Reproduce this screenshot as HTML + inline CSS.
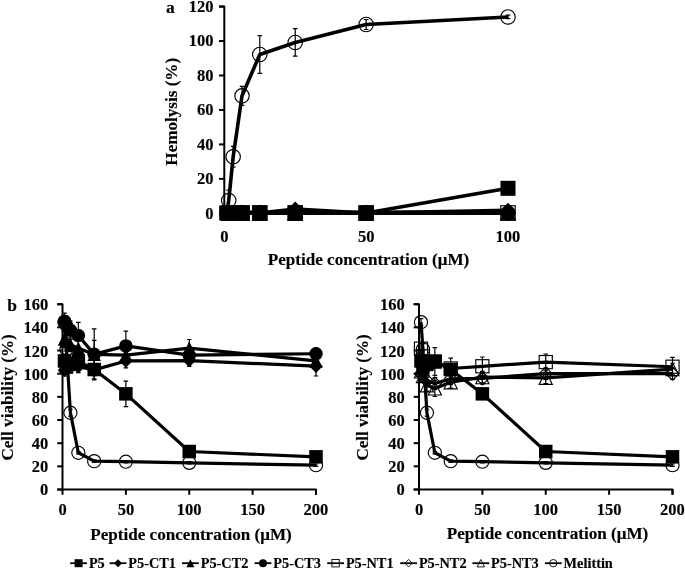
<!DOCTYPE html>
<html><head><meta charset="utf-8"><style>
html,body{margin:0;padding:0;background:#fff;}
svg{display:block;will-change:transform}
text{font-family:"Liberation Serif",serif;font-weight:bold;fill:#000;stroke:#000;stroke-width:0.15px}
</style></head><body>
<svg width="685" height="569" viewBox="0 0 685 569">
<rect width="685" height="569" fill="#fff"/>
<path d="M219.0 6.6 H224.3 V213.3" stroke="#000" stroke-width="2" fill="none" stroke-linejoin="round"/>
<path d="M219.0 213.3 H508 V213.3" stroke="#000" stroke-width="2" fill="none" stroke-linejoin="round"/>
<path d="M219.0 213.30 H224.3" stroke="#000" stroke-width="2"/>
<text transform="translate(213.5 218.53) scale(0.935 1)" font-size="17.66" text-anchor="end">0</text>
<path d="M219.0 178.85 H224.3" stroke="#000" stroke-width="2"/>
<text transform="translate(213.5 184.08) scale(0.935 1)" font-size="17.66" text-anchor="end">20</text>
<path d="M219.0 144.40 H224.3" stroke="#000" stroke-width="2"/>
<text transform="translate(213.5 149.63) scale(0.935 1)" font-size="17.66" text-anchor="end">40</text>
<path d="M219.0 109.95 H224.3" stroke="#000" stroke-width="2"/>
<text transform="translate(213.5 115.18) scale(0.935 1)" font-size="17.66" text-anchor="end">60</text>
<path d="M219.0 75.50 H224.3" stroke="#000" stroke-width="2"/>
<text transform="translate(213.5 80.73) scale(0.935 1)" font-size="17.66" text-anchor="end">80</text>
<path d="M219.0 41.05 H224.3" stroke="#000" stroke-width="2"/>
<text transform="translate(213.5 46.28) scale(0.935 1)" font-size="17.66" text-anchor="end">100</text>
<path d="M219.0 6.60 H224.3" stroke="#000" stroke-width="2"/>
<text transform="translate(213.5 11.83) scale(0.935 1)" font-size="17.66" text-anchor="end">120</text>
<text transform="translate(224.30 241.7) scale(0.935 1)" font-size="17.66" text-anchor="middle">0</text>
<text transform="translate(366.15 241.7) scale(0.935 1)" font-size="17.66" text-anchor="middle">50</text>
<text transform="translate(508.00 241.7) scale(0.935 1)" font-size="17.66" text-anchor="middle">100</text>
<text x="368.5" y="265" font-size="17.1" text-anchor="middle">Peptide concentration (μM)</text>
<text transform="translate(176.8 111.75) rotate(-90)" font-size="17.1" text-anchor="middle">Hemolysis (%)</text>
<path d="M228.73 190.22 V210.89 M226.43 190.22 h4.6 M226.43 210.89 h4.6" stroke="#000" stroke-width="1.2" fill="none"/>
<path d="M233.17 146.47 V167.14 M230.87 146.47 h4.6 M230.87 167.14 h4.6" stroke="#000" stroke-width="1.2" fill="none"/>
<path d="M242.03 86.35 V105.30 M239.73 86.35 h4.6 M239.73 105.30 h4.6" stroke="#000" stroke-width="1.2" fill="none"/>
<path d="M259.76 35.54 V73.43 M257.46 35.54 h4.6 M257.46 73.43 h4.6" stroke="#000" stroke-width="1.2" fill="none"/>
<path d="M295.23 28.65 V56.21 M292.93 28.65 h4.6 M292.93 56.21 h4.6" stroke="#000" stroke-width="1.2" fill="none"/>
<path d="M366.15 19.52 V29.51 M363.85 19.52 h4.6 M363.85 29.51 h4.6" stroke="#000" stroke-width="1.2" fill="none"/>
<path d="M508.00 15.21 V18.66 M505.70 15.21 h4.6 M505.70 18.66 h4.6" stroke="#000" stroke-width="1.2" fill="none"/>
<path d="M226.71 212.96 L228.73 200.55 L233.17 156.80 L242.03 95.83 L259.76 54.49 L295.23 42.43 L366.15 24.51 L508.00 16.94" stroke="#000" stroke-width="3.6" fill="none" stroke-linejoin="round"/>
<circle cx="226.71" cy="212.96" r="7.22" fill="none" stroke="#000" stroke-width="1.15"/>
<circle cx="228.73" cy="200.55" r="7.22" fill="none" stroke="#000" stroke-width="1.15"/>
<circle cx="233.17" cy="156.80" r="7.22" fill="none" stroke="#000" stroke-width="1.15"/>
<circle cx="242.03" cy="95.83" r="7.22" fill="none" stroke="#000" stroke-width="1.15"/>
<circle cx="259.76" cy="54.49" r="7.22" fill="none" stroke="#000" stroke-width="1.15"/>
<circle cx="295.23" cy="42.43" r="7.22" fill="none" stroke="#000" stroke-width="1.15"/>
<circle cx="366.15" cy="24.51" r="7.22" fill="none" stroke="#000" stroke-width="1.15"/>
<circle cx="508.00" cy="16.94" r="7.22" fill="none" stroke="#000" stroke-width="1.15"/>
<path d="M228.73 212.96 L233.17 212.96 L242.03 212.96 L259.76 212.96 L295.23 212.96 L366.15 212.96 L508.00 212.96" stroke="#000" stroke-width="3.6" fill="none" stroke-linejoin="round"/>
<path d="M228.73 205.73 L235.96 220.18 L221.51 220.18 Z" fill="none" stroke="#000" stroke-width="1.15"/>
<path d="M233.17 205.73 L240.39 220.18 L225.94 220.18 Z" fill="none" stroke="#000" stroke-width="1.15"/>
<path d="M242.03 205.73 L249.26 220.18 L234.81 220.18 Z" fill="none" stroke="#000" stroke-width="1.15"/>
<path d="M259.76 205.73 L266.99 220.18 L252.54 220.18 Z" fill="none" stroke="#000" stroke-width="1.15"/>
<path d="M295.23 205.73 L302.45 220.18 L288.00 220.18 Z" fill="none" stroke="#000" stroke-width="1.15"/>
<path d="M366.15 205.73 L373.38 220.18 L358.92 220.18 Z" fill="none" stroke="#000" stroke-width="1.15"/>
<path d="M508.00 205.73 L515.23 220.18 L500.77 220.18 Z" fill="none" stroke="#000" stroke-width="1.15"/>
<path d="M228.73 212.96 L233.17 212.96 L242.03 212.96 L259.76 212.96 L295.23 212.96 L366.15 212.96 L508.00 212.96" stroke="#000" stroke-width="3.6" fill="none" stroke-linejoin="round"/>
<path d="M228.73 205.73 L235.96 212.96 L228.73 220.18 L221.51 212.96 Z" fill="none" stroke="#000" stroke-width="1.15"/>
<path d="M233.17 205.73 L240.39 212.96 L233.17 220.18 L225.94 212.96 Z" fill="none" stroke="#000" stroke-width="1.15"/>
<path d="M242.03 205.73 L249.26 212.96 L242.03 220.18 L234.81 212.96 Z" fill="none" stroke="#000" stroke-width="1.15"/>
<path d="M259.76 205.73 L266.99 212.96 L259.76 220.18 L252.54 212.96 Z" fill="none" stroke="#000" stroke-width="1.15"/>
<path d="M295.23 205.73 L302.45 212.96 L295.23 220.18 L288.00 212.96 Z" fill="none" stroke="#000" stroke-width="1.15"/>
<path d="M366.15 205.73 L373.38 212.96 L366.15 220.18 L358.92 212.96 Z" fill="none" stroke="#000" stroke-width="1.15"/>
<path d="M508.00 205.73 L515.23 212.96 L508.00 220.18 L500.77 212.96 Z" fill="none" stroke="#000" stroke-width="1.15"/>
<path d="M228.73 212.96 L233.17 212.96 L242.03 212.96 L259.76 212.96 L295.23 212.96 L366.15 212.96 L508.00 212.96" stroke="#000" stroke-width="3.6" fill="none" stroke-linejoin="round"/>
<rect x="221.51" y="205.73" width="14.45" height="14.45" fill="none" stroke="#000" stroke-width="1.15"/>
<rect x="225.94" y="205.73" width="14.45" height="14.45" fill="none" stroke="#000" stroke-width="1.15"/>
<rect x="234.81" y="205.73" width="14.45" height="14.45" fill="none" stroke="#000" stroke-width="1.15"/>
<rect x="252.54" y="205.73" width="14.45" height="14.45" fill="none" stroke="#000" stroke-width="1.15"/>
<rect x="288.00" y="205.73" width="14.45" height="14.45" fill="none" stroke="#000" stroke-width="1.15"/>
<rect x="358.92" y="205.73" width="14.45" height="14.45" fill="none" stroke="#000" stroke-width="1.15"/>
<rect x="500.77" y="205.73" width="14.45" height="14.45" fill="none" stroke="#000" stroke-width="1.15"/>
<path d="M228.73 212.96 L233.17 212.96 L242.03 212.96 L259.76 212.96 L295.23 212.96 L366.15 212.96 L508.00 212.96" stroke="#000" stroke-width="3.6" fill="none" stroke-linejoin="round"/>
<circle cx="228.73" cy="212.96" r="7.50" fill="#000" stroke="#000" stroke-width="0"/>
<circle cx="233.17" cy="212.96" r="7.50" fill="#000" stroke="#000" stroke-width="0"/>
<circle cx="242.03" cy="212.96" r="7.50" fill="#000" stroke="#000" stroke-width="0"/>
<circle cx="259.76" cy="212.96" r="7.50" fill="#000" stroke="#000" stroke-width="0"/>
<circle cx="295.23" cy="212.96" r="7.50" fill="#000" stroke="#000" stroke-width="0"/>
<circle cx="366.15" cy="212.96" r="7.50" fill="#000" stroke="#000" stroke-width="0"/>
<circle cx="508.00" cy="212.96" r="7.50" fill="#000" stroke="#000" stroke-width="0"/>
<path d="M228.73 212.27 L233.17 212.27 L242.03 212.27 L259.76 212.27 L295.23 212.27 L366.15 212.27 L508.00 212.27" stroke="#000" stroke-width="3.6" fill="none" stroke-linejoin="round"/>
<path d="M228.73 204.77 L236.23 219.77 L221.23 219.77 Z" fill="#000" stroke="#000" stroke-width="0"/>
<path d="M233.17 204.77 L240.67 219.77 L225.67 219.77 Z" fill="#000" stroke="#000" stroke-width="0"/>
<path d="M242.03 204.77 L249.53 219.77 L234.53 219.77 Z" fill="#000" stroke="#000" stroke-width="0"/>
<path d="M259.76 204.77 L267.26 219.77 L252.26 219.77 Z" fill="#000" stroke="#000" stroke-width="0"/>
<path d="M295.23 204.77 L302.73 219.77 L287.73 219.77 Z" fill="#000" stroke="#000" stroke-width="0"/>
<path d="M366.15 204.77 L373.65 219.77 L358.65 219.77 Z" fill="#000" stroke="#000" stroke-width="0"/>
<path d="M508.00 204.77 L515.50 219.77 L500.50 219.77 Z" fill="#000" stroke="#000" stroke-width="0"/>
<path d="M228.73 212.96 L233.17 212.96 L242.03 212.96 L259.76 212.96 L295.23 208.99 L366.15 212.96 L508.00 210.37" stroke="#000" stroke-width="3.6" fill="none" stroke-linejoin="round"/>
<path d="M228.73 205.46 L236.23 212.96 L228.73 220.46 L221.23 212.96 Z" fill="#000" stroke="#000" stroke-width="0"/>
<path d="M233.17 205.46 L240.67 212.96 L233.17 220.46 L225.67 212.96 Z" fill="#000" stroke="#000" stroke-width="0"/>
<path d="M242.03 205.46 L249.53 212.96 L242.03 220.46 L234.53 212.96 Z" fill="#000" stroke="#000" stroke-width="0"/>
<path d="M259.76 205.46 L267.26 212.96 L259.76 220.46 L252.26 212.96 Z" fill="#000" stroke="#000" stroke-width="0"/>
<path d="M295.23 201.49 L302.73 208.99 L295.23 216.49 L287.73 208.99 Z" fill="#000" stroke="#000" stroke-width="0"/>
<path d="M366.15 205.46 L373.65 212.96 L366.15 220.46 L358.65 212.96 Z" fill="#000" stroke="#000" stroke-width="0"/>
<path d="M508.00 202.87 L515.50 210.37 L508.00 217.87 L500.50 210.37 Z" fill="#000" stroke="#000" stroke-width="0"/>
<path d="M226.71 212.96 L228.73 212.96 L233.17 212.96 L242.03 212.96 L259.76 212.96 L295.23 212.96 L366.15 212.96 L508.00 188.32" stroke="#000" stroke-width="3.6" fill="none" stroke-linejoin="round"/>
<rect x="219.21" y="205.46" width="15" height="15" fill="#000" stroke="#000" stroke-width="0"/>
<rect x="221.23" y="205.46" width="15" height="15" fill="#000" stroke="#000" stroke-width="0"/>
<rect x="225.67" y="205.46" width="15" height="15" fill="#000" stroke="#000" stroke-width="0"/>
<rect x="234.53" y="205.46" width="15" height="15" fill="#000" stroke="#000" stroke-width="0"/>
<rect x="252.26" y="205.46" width="15" height="15" fill="#000" stroke="#000" stroke-width="0"/>
<rect x="287.73" y="205.46" width="15" height="15" fill="#000" stroke="#000" stroke-width="0"/>
<rect x="358.65" y="205.46" width="15" height="15" fill="#000" stroke="#000" stroke-width="0"/>
<rect x="500.50" y="180.82" width="15" height="15" fill="#000" stroke="#000" stroke-width="0"/>
<path d="M57.2 304.2 H62.5 V489.5" stroke="#000" stroke-width="2" fill="none" stroke-linejoin="round"/>
<path d="M57.2 489.5 H316 V494.8" stroke="#000" stroke-width="2" fill="none" stroke-linejoin="round"/>
<path d="M57.2 489.50 H62.5" stroke="#000" stroke-width="2"/>
<text transform="translate(48.3 495.48) scale(0.935 1)" font-size="17.66" text-anchor="end">0</text>
<path d="M57.2 466.34 H62.5" stroke="#000" stroke-width="2"/>
<text transform="translate(48.3 472.31) scale(0.935 1)" font-size="17.66" text-anchor="end">20</text>
<path d="M57.2 443.18 H62.5" stroke="#000" stroke-width="2"/>
<text transform="translate(48.3 449.15) scale(0.935 1)" font-size="17.66" text-anchor="end">40</text>
<path d="M57.2 420.01 H62.5" stroke="#000" stroke-width="2"/>
<text transform="translate(48.3 425.99) scale(0.935 1)" font-size="17.66" text-anchor="end">60</text>
<path d="M57.2 396.85 H62.5" stroke="#000" stroke-width="2"/>
<text transform="translate(48.3 402.83) scale(0.935 1)" font-size="17.66" text-anchor="end">80</text>
<path d="M57.2 373.69 H62.5" stroke="#000" stroke-width="2"/>
<text transform="translate(48.3 379.66) scale(0.935 1)" font-size="17.66" text-anchor="end">100</text>
<path d="M57.2 350.52 H62.5" stroke="#000" stroke-width="2"/>
<text transform="translate(48.3 356.50) scale(0.935 1)" font-size="17.66" text-anchor="end">120</text>
<path d="M57.2 327.36 H62.5" stroke="#000" stroke-width="2"/>
<text transform="translate(48.3 333.34) scale(0.935 1)" font-size="17.66" text-anchor="end">140</text>
<path d="M57.2 304.20 H62.5" stroke="#000" stroke-width="2"/>
<text transform="translate(48.3 310.18) scale(0.935 1)" font-size="17.66" text-anchor="end">160</text>
<path d="M62.50 489.5 V494.8" stroke="#000" stroke-width="2"/>
<text transform="translate(62.50 515.45) scale(0.935 1)" font-size="17.66" text-anchor="middle">0</text>
<path d="M125.88 489.5 V494.8" stroke="#000" stroke-width="2"/>
<text transform="translate(125.88 515.45) scale(0.935 1)" font-size="17.66" text-anchor="middle">50</text>
<path d="M189.25 489.5 V494.8" stroke="#000" stroke-width="2"/>
<text transform="translate(189.25 515.45) scale(0.935 1)" font-size="17.66" text-anchor="middle">100</text>
<path d="M252.62 489.5 V494.8" stroke="#000" stroke-width="2"/>
<text transform="translate(252.62 515.45) scale(0.935 1)" font-size="17.66" text-anchor="middle">150</text>
<path d="M316.00 489.5 V494.8" stroke="#000" stroke-width="2"/>
<text transform="translate(316.00 515.45) scale(0.935 1)" font-size="17.66" text-anchor="middle">200</text>
<text x="191" y="539.6" font-size="17.1" text-anchor="middle">Peptide concentration (μM)</text>
<text transform="translate(12.8 397.45000000000005) rotate(-90)" font-size="17.1" text-anchor="middle">Cell viability (%)</text>
<path d="M64.48 318.68 V325.63 M62.18 318.68 h4.6 M62.18 325.63 h4.6" stroke="#000" stroke-width="1.2" fill="none"/>
<path d="M66.46 343.58 V355.16 M64.16 343.58 h4.6 M64.16 355.16 h4.6" stroke="#000" stroke-width="1.2" fill="none"/>
<path d="M70.42 409.24 V416.19 M68.12 409.24 h4.6 M68.12 416.19 h4.6" stroke="#000" stroke-width="1.2" fill="none"/>
<path d="M78.34 451.63 V453.95 M76.04 451.63 h4.6 M76.04 453.95 h4.6" stroke="#000" stroke-width="1.2" fill="none"/>
<path d="M94.19 459.97 V462.28 M91.89 459.97 h4.6 M91.89 462.28 h4.6" stroke="#000" stroke-width="1.2" fill="none"/>
<path d="M125.88 460.55 V462.86 M123.58 460.55 h4.6 M123.58 462.86 h4.6" stroke="#000" stroke-width="1.2" fill="none"/>
<path d="M189.25 461.70 V464.02 M186.95 461.70 h4.6 M186.95 464.02 h4.6" stroke="#000" stroke-width="1.2" fill="none"/>
<path d="M316.00 464.02 V466.34 M313.70 464.02 h4.6 M313.70 466.34 h4.6" stroke="#000" stroke-width="1.2" fill="none"/>
<path d="M64.48 322.15 L66.46 349.37 L70.42 412.72 L78.34 452.79 L94.19 461.13 L125.88 461.70 L189.25 462.86 L316.00 465.18" stroke="#000" stroke-width="3.2" fill="none" stroke-linejoin="round"/>
<circle cx="64.48" cy="322.15" r="6.58" fill="none" stroke="#000" stroke-width="1.15"/>
<circle cx="66.46" cy="349.37" r="6.58" fill="none" stroke="#000" stroke-width="1.15"/>
<circle cx="70.42" cy="412.72" r="6.58" fill="none" stroke="#000" stroke-width="1.15"/>
<circle cx="78.34" cy="452.79" r="6.58" fill="none" stroke="#000" stroke-width="1.15"/>
<circle cx="94.19" cy="461.13" r="6.58" fill="none" stroke="#000" stroke-width="1.15"/>
<circle cx="125.88" cy="461.70" r="6.58" fill="none" stroke="#000" stroke-width="1.15"/>
<circle cx="189.25" cy="462.86" r="6.58" fill="none" stroke="#000" stroke-width="1.15"/>
<circle cx="316.00" cy="465.18" r="6.58" fill="none" stroke="#000" stroke-width="1.15"/>
<path d="M64.48 313.12 V329.33 M62.18 313.12 h4.6 M62.18 329.33 h4.6" stroke="#000" stroke-width="1.2" fill="none"/>
<path d="M66.46 316.36 V334.89 M64.16 316.36 h4.6 M64.16 334.89 h4.6" stroke="#000" stroke-width="1.2" fill="none"/>
<path d="M70.42 320.99 V339.52 M68.12 320.99 h4.6 M68.12 339.52 h4.6" stroke="#000" stroke-width="1.2" fill="none"/>
<path d="M78.34 322.38 V348.56 M76.04 322.38 h4.6 M76.04 348.56 h4.6" stroke="#000" stroke-width="1.2" fill="none"/>
<path d="M94.19 328.87 V379.83 M91.89 328.87 h4.6 M91.89 379.83 h4.6" stroke="#000" stroke-width="1.2" fill="none"/>
<path d="M125.88 331.18 V360.60 M123.58 331.18 h4.6 M123.58 360.60 h4.6" stroke="#000" stroke-width="1.2" fill="none"/>
<path d="M189.25 349.37 V360.95 M186.95 349.37 h4.6 M186.95 360.95 h4.6" stroke="#000" stroke-width="1.2" fill="none"/>
<path d="M316.00 347.98 V359.56 M313.70 347.98 h4.6 M313.70 359.56 h4.6" stroke="#000" stroke-width="1.2" fill="none"/>
<path d="M64.48 321.22 L66.46 325.63 L70.42 330.26 L78.34 335.47 L94.19 354.35 L125.88 345.89 L189.25 355.16 L316.00 353.77" stroke="#000" stroke-width="3.2" fill="none" stroke-linejoin="round"/>
<circle cx="64.48" cy="321.22" r="6.75" fill="#000" stroke="#000" stroke-width="0"/>
<circle cx="66.46" cy="325.63" r="6.75" fill="#000" stroke="#000" stroke-width="0"/>
<circle cx="70.42" cy="330.26" r="6.75" fill="#000" stroke="#000" stroke-width="0"/>
<circle cx="78.34" cy="335.47" r="6.75" fill="#000" stroke="#000" stroke-width="0"/>
<circle cx="94.19" cy="354.35" r="6.75" fill="#000" stroke="#000" stroke-width="0"/>
<circle cx="125.88" cy="345.89" r="6.75" fill="#000" stroke="#000" stroke-width="0"/>
<circle cx="189.25" cy="355.16" r="6.75" fill="#000" stroke="#000" stroke-width="0"/>
<circle cx="316.00" cy="353.77" r="6.75" fill="#000" stroke="#000" stroke-width="0"/>
<path d="M64.48 332.00 V345.89 M62.18 332.00 h4.6 M62.18 345.89 h4.6" stroke="#000" stroke-width="1.2" fill="none"/>
<path d="M66.46 334.31 V348.21 M64.16 334.31 h4.6 M64.16 348.21 h4.6" stroke="#000" stroke-width="1.2" fill="none"/>
<path d="M70.42 337.79 V351.68 M68.12 337.79 h4.6 M68.12 351.68 h4.6" stroke="#000" stroke-width="1.2" fill="none"/>
<path d="M78.34 341.26 V355.16 M76.04 341.26 h4.6 M76.04 355.16 h4.6" stroke="#000" stroke-width="1.2" fill="none"/>
<path d="M94.19 340.45 V368.24 M91.89 340.45 h4.6 M91.89 368.24 h4.6" stroke="#000" stroke-width="1.2" fill="none"/>
<path d="M125.88 348.21 V362.11 M123.58 348.21 h4.6 M123.58 362.11 h4.6" stroke="#000" stroke-width="1.2" fill="none"/>
<path d="M189.25 339.52 V356.89 M186.95 339.52 h4.6 M186.95 356.89 h4.6" stroke="#000" stroke-width="1.2" fill="none"/>
<path d="M316.00 355.16 V366.74 M313.70 355.16 h4.6 M313.70 366.74 h4.6" stroke="#000" stroke-width="1.2" fill="none"/>
<path d="M64.48 338.94 L66.46 341.26 L70.42 344.73 L78.34 348.21 L94.19 354.35 L125.88 355.16 L189.25 348.21 L316.00 360.95" stroke="#000" stroke-width="3.2" fill="none" stroke-linejoin="round"/>
<path d="M64.48 332.19 L71.23 345.69 L57.73 345.69 Z" fill="#000" stroke="#000" stroke-width="0"/>
<path d="M66.46 334.51 L73.21 348.01 L59.71 348.01 Z" fill="#000" stroke="#000" stroke-width="0"/>
<path d="M70.42 337.98 L77.17 351.48 L63.67 351.48 Z" fill="#000" stroke="#000" stroke-width="0"/>
<path d="M78.34 341.46 L85.09 354.96 L71.59 354.96 Z" fill="#000" stroke="#000" stroke-width="0"/>
<path d="M94.19 347.60 L100.94 361.10 L87.44 361.10 Z" fill="#000" stroke="#000" stroke-width="0"/>
<path d="M125.88 348.41 L132.62 361.91 L119.12 361.91 Z" fill="#000" stroke="#000" stroke-width="0"/>
<path d="M189.25 341.46 L196.00 354.96 L182.50 354.96 Z" fill="#000" stroke="#000" stroke-width="0"/>
<path d="M316.00 354.20 L322.75 367.70 L309.25 367.70 Z" fill="#000" stroke="#000" stroke-width="0"/>
<path d="M64.48 364.42 V376.00 M62.18 364.42 h4.6 M62.18 376.00 h4.6" stroke="#000" stroke-width="1.2" fill="none"/>
<path d="M66.46 362.11 V373.69 M64.16 362.11 h4.6 M64.16 373.69 h4.6" stroke="#000" stroke-width="1.2" fill="none"/>
<path d="M70.42 360.95 V372.53 M68.12 360.95 h4.6 M68.12 372.53 h4.6" stroke="#000" stroke-width="1.2" fill="none"/>
<path d="M78.34 360.95 V372.53 M76.04 360.95 h4.6 M76.04 372.53 h4.6" stroke="#000" stroke-width="1.2" fill="none"/>
<path d="M94.19 364.08 V375.66 M91.89 364.08 h4.6 M91.89 375.66 h4.6" stroke="#000" stroke-width="1.2" fill="none"/>
<path d="M125.88 354.00 V367.90 M123.58 354.00 h4.6 M123.58 367.90 h4.6" stroke="#000" stroke-width="1.2" fill="none"/>
<path d="M189.25 354.81 V366.39 M186.95 354.81 h4.6 M186.95 366.39 h4.6" stroke="#000" stroke-width="1.2" fill="none"/>
<path d="M316.00 356.32 V376.00 M313.70 356.32 h4.6 M313.70 376.00 h4.6" stroke="#000" stroke-width="1.2" fill="none"/>
<path d="M64.48 370.21 L66.46 367.90 L70.42 366.74 L78.34 366.74 L94.19 369.87 L125.88 360.95 L189.25 360.60 L316.00 366.16" stroke="#000" stroke-width="3.2" fill="none" stroke-linejoin="round"/>
<path d="M64.48 363.46 L71.23 370.21 L64.48 376.96 L57.73 370.21 Z" fill="#000" stroke="#000" stroke-width="0"/>
<path d="M66.46 361.15 L73.21 367.90 L66.46 374.65 L59.71 367.90 Z" fill="#000" stroke="#000" stroke-width="0"/>
<path d="M70.42 359.99 L77.17 366.74 L70.42 373.49 L63.67 366.74 Z" fill="#000" stroke="#000" stroke-width="0"/>
<path d="M78.34 359.99 L85.09 366.74 L78.34 373.49 L71.59 366.74 Z" fill="#000" stroke="#000" stroke-width="0"/>
<path d="M94.19 363.12 L100.94 369.87 L94.19 376.62 L87.44 369.87 Z" fill="#000" stroke="#000" stroke-width="0"/>
<path d="M125.88 354.20 L132.62 360.95 L125.88 367.70 L119.12 360.95 Z" fill="#000" stroke="#000" stroke-width="0"/>
<path d="M189.25 353.85 L196.00 360.60 L189.25 367.35 L182.50 360.60 Z" fill="#000" stroke="#000" stroke-width="0"/>
<path d="M316.00 359.41 L322.75 366.16 L316.00 372.91 L309.25 366.16 Z" fill="#000" stroke="#000" stroke-width="0"/>
<path d="M64.48 354.00 V367.90 M62.18 354.00 h4.6 M62.18 367.90 h4.6" stroke="#000" stroke-width="1.2" fill="none"/>
<path d="M66.46 360.14 V374.03 M64.16 360.14 h4.6 M64.16 374.03 h4.6" stroke="#000" stroke-width="1.2" fill="none"/>
<path d="M70.42 357.47 V371.37 M68.12 357.47 h4.6 M68.12 371.37 h4.6" stroke="#000" stroke-width="1.2" fill="none"/>
<path d="M78.34 354.58 V368.48 M76.04 354.58 h4.6 M76.04 368.48 h4.6" stroke="#000" stroke-width="1.2" fill="none"/>
<path d="M94.19 360.25 V378.78 M91.89 360.25 h4.6 M91.89 378.78 h4.6" stroke="#000" stroke-width="1.2" fill="none"/>
<path d="M125.88 381.10 V406.58 M123.58 381.10 h4.6 M123.58 406.58 h4.6" stroke="#000" stroke-width="1.2" fill="none"/>
<path d="M189.25 448.04 V454.99 M186.95 448.04 h4.6 M186.95 454.99 h4.6" stroke="#000" stroke-width="1.2" fill="none"/>
<path d="M316.00 454.52 V459.16 M313.70 454.52 h4.6 M313.70 459.16 h4.6" stroke="#000" stroke-width="1.2" fill="none"/>
<path d="M64.48 360.95 L66.46 367.09 L70.42 364.42 L78.34 361.53 L94.19 369.52 L125.88 393.84 L189.25 451.51 L316.00 456.84" stroke="#000" stroke-width="3.2" fill="none" stroke-linejoin="round"/>
<rect x="57.73" y="354.20" width="13.5" height="13.5" fill="#000" stroke="#000" stroke-width="0"/>
<rect x="59.71" y="360.34" width="13.5" height="13.5" fill="#000" stroke="#000" stroke-width="0"/>
<rect x="63.67" y="357.67" width="13.5" height="13.5" fill="#000" stroke="#000" stroke-width="0"/>
<rect x="71.59" y="354.78" width="13.5" height="13.5" fill="#000" stroke="#000" stroke-width="0"/>
<rect x="87.44" y="362.77" width="13.5" height="13.5" fill="#000" stroke="#000" stroke-width="0"/>
<rect x="119.12" y="387.09" width="13.5" height="13.5" fill="#000" stroke="#000" stroke-width="0"/>
<rect x="182.50" y="444.76" width="13.5" height="13.5" fill="#000" stroke="#000" stroke-width="0"/>
<rect x="309.25" y="450.09" width="13.5" height="13.5" fill="#000" stroke="#000" stroke-width="0"/>
<path d="M413.7 304.2 H419 V489.5" stroke="#000" stroke-width="2" fill="none" stroke-linejoin="round"/>
<path d="M413.7 489.5 H672.5 V494.8" stroke="#000" stroke-width="2" fill="none" stroke-linejoin="round"/>
<path d="M413.7 489.50 H419" stroke="#000" stroke-width="2"/>
<text transform="translate(404.8 495.48) scale(0.935 1)" font-size="17.66" text-anchor="end">0</text>
<path d="M413.7 466.34 H419" stroke="#000" stroke-width="2"/>
<text transform="translate(404.8 472.31) scale(0.935 1)" font-size="17.66" text-anchor="end">20</text>
<path d="M413.7 443.18 H419" stroke="#000" stroke-width="2"/>
<text transform="translate(404.8 449.15) scale(0.935 1)" font-size="17.66" text-anchor="end">40</text>
<path d="M413.7 420.01 H419" stroke="#000" stroke-width="2"/>
<text transform="translate(404.8 425.99) scale(0.935 1)" font-size="17.66" text-anchor="end">60</text>
<path d="M413.7 396.85 H419" stroke="#000" stroke-width="2"/>
<text transform="translate(404.8 402.83) scale(0.935 1)" font-size="17.66" text-anchor="end">80</text>
<path d="M413.7 373.69 H419" stroke="#000" stroke-width="2"/>
<text transform="translate(404.8 379.66) scale(0.935 1)" font-size="17.66" text-anchor="end">100</text>
<path d="M413.7 350.52 H419" stroke="#000" stroke-width="2"/>
<text transform="translate(404.8 356.50) scale(0.935 1)" font-size="17.66" text-anchor="end">120</text>
<path d="M413.7 327.36 H419" stroke="#000" stroke-width="2"/>
<text transform="translate(404.8 333.34) scale(0.935 1)" font-size="17.66" text-anchor="end">140</text>
<path d="M413.7 304.20 H419" stroke="#000" stroke-width="2"/>
<text transform="translate(404.8 310.18) scale(0.935 1)" font-size="17.66" text-anchor="end">160</text>
<path d="M419.00 489.5 V494.8" stroke="#000" stroke-width="2"/>
<text transform="translate(419.00 514.6) scale(0.935 1)" font-size="17.66" text-anchor="middle">0</text>
<path d="M482.38 489.5 V494.8" stroke="#000" stroke-width="2"/>
<text transform="translate(482.38 514.6) scale(0.935 1)" font-size="17.66" text-anchor="middle">50</text>
<path d="M545.75 489.5 V494.8" stroke="#000" stroke-width="2"/>
<text transform="translate(545.75 514.6) scale(0.935 1)" font-size="17.66" text-anchor="middle">100</text>
<path d="M609.12 489.5 V494.8" stroke="#000" stroke-width="2"/>
<text transform="translate(609.12 514.6) scale(0.935 1)" font-size="17.66" text-anchor="middle">150</text>
<path d="M672.50 489.5 V494.8" stroke="#000" stroke-width="2"/>
<text transform="translate(672.50 514.6) scale(0.935 1)" font-size="17.66" text-anchor="middle">200</text>
<text x="547.5" y="538.7" font-size="17.1" text-anchor="middle">Peptide concentration (μM)</text>
<text transform="translate(367.5 397.45000000000005) rotate(-90)" font-size="17.1" text-anchor="middle">Cell viability (%)</text>
<path d="M420.98 318.68 V325.63 M418.68 318.68 h4.6 M418.68 325.63 h4.6" stroke="#000" stroke-width="1.2" fill="none"/>
<path d="M422.96 343.58 V355.16 M420.66 343.58 h4.6 M420.66 355.16 h4.6" stroke="#000" stroke-width="1.2" fill="none"/>
<path d="M426.92 409.24 V416.19 M424.62 409.24 h4.6 M424.62 416.19 h4.6" stroke="#000" stroke-width="1.2" fill="none"/>
<path d="M434.84 451.63 V453.95 M432.54 451.63 h4.6 M432.54 453.95 h4.6" stroke="#000" stroke-width="1.2" fill="none"/>
<path d="M450.69 459.97 V462.28 M448.39 459.97 h4.6 M448.39 462.28 h4.6" stroke="#000" stroke-width="1.2" fill="none"/>
<path d="M482.38 460.55 V462.86 M480.07 460.55 h4.6 M480.07 462.86 h4.6" stroke="#000" stroke-width="1.2" fill="none"/>
<path d="M545.75 461.70 V464.02 M543.45 461.70 h4.6 M543.45 464.02 h4.6" stroke="#000" stroke-width="1.2" fill="none"/>
<path d="M672.50 464.02 V466.34 M670.20 464.02 h4.6 M670.20 466.34 h4.6" stroke="#000" stroke-width="1.2" fill="none"/>
<path d="M420.98 322.15 L422.96 349.37 L426.92 412.72 L434.84 452.79 L450.69 461.13 L482.38 461.70 L545.75 462.86 L672.50 465.18" stroke="#000" stroke-width="3.2" fill="none" stroke-linejoin="round"/>
<circle cx="420.98" cy="322.15" r="6.58" fill="none" stroke="#000" stroke-width="1.15"/>
<circle cx="422.96" cy="349.37" r="6.58" fill="none" stroke="#000" stroke-width="1.15"/>
<circle cx="426.92" cy="412.72" r="6.58" fill="none" stroke="#000" stroke-width="1.15"/>
<circle cx="434.84" cy="452.79" r="6.58" fill="none" stroke="#000" stroke-width="1.15"/>
<circle cx="450.69" cy="461.13" r="6.58" fill="none" stroke="#000" stroke-width="1.15"/>
<circle cx="482.38" cy="461.70" r="6.58" fill="none" stroke="#000" stroke-width="1.15"/>
<circle cx="545.75" cy="462.86" r="6.58" fill="none" stroke="#000" stroke-width="1.15"/>
<circle cx="672.50" cy="465.18" r="6.58" fill="none" stroke="#000" stroke-width="1.15"/>
<path d="M420.98 365.58 V377.16 M418.68 365.58 h4.6 M418.68 377.16 h4.6" stroke="#000" stroke-width="1.2" fill="none"/>
<path d="M422.96 370.21 V381.79 M420.66 370.21 h4.6 M420.66 381.79 h4.6" stroke="#000" stroke-width="1.2" fill="none"/>
<path d="M426.92 379.48 V391.06 M424.62 379.48 h4.6 M424.62 391.06 h4.6" stroke="#000" stroke-width="1.2" fill="none"/>
<path d="M434.84 380.29 V396.50 M432.54 380.29 h4.6 M432.54 396.50 h4.6" stroke="#000" stroke-width="1.2" fill="none"/>
<path d="M450.69 376.47 V388.05 M448.39 376.47 h4.6 M448.39 388.05 h4.6" stroke="#000" stroke-width="1.2" fill="none"/>
<path d="M482.38 371.37 V382.95 M480.07 371.37 h4.6 M480.07 382.95 h4.6" stroke="#000" stroke-width="1.2" fill="none"/>
<path d="M545.75 372.07 V383.65 M543.45 372.07 h4.6 M543.45 383.65 h4.6" stroke="#000" stroke-width="1.2" fill="none"/>
<path d="M672.50 363.26 V374.85 M670.20 363.26 h4.6 M670.20 374.85 h4.6" stroke="#000" stroke-width="1.2" fill="none"/>
<path d="M420.98 371.37 L422.96 376.00 L426.92 385.27 L434.84 388.40 L450.69 382.26 L482.38 377.16 L545.75 377.86 L672.50 369.06" stroke="#000" stroke-width="3.2" fill="none" stroke-linejoin="round"/>
<path d="M420.98 364.80 L427.56 377.95 L414.41 377.95 Z" fill="none" stroke="#000" stroke-width="1.15"/>
<path d="M422.96 369.43 L429.54 382.58 L416.39 382.58 Z" fill="none" stroke="#000" stroke-width="1.15"/>
<path d="M426.92 378.69 L433.50 391.84 L420.35 391.84 Z" fill="none" stroke="#000" stroke-width="1.15"/>
<path d="M434.84 381.82 L441.42 394.97 L428.27 394.97 Z" fill="none" stroke="#000" stroke-width="1.15"/>
<path d="M450.69 375.68 L457.26 388.83 L444.11 388.83 Z" fill="none" stroke="#000" stroke-width="1.15"/>
<path d="M482.38 370.59 L488.95 383.74 L475.80 383.74 Z" fill="none" stroke="#000" stroke-width="1.15"/>
<path d="M545.75 371.28 L552.33 384.43 L539.17 384.43 Z" fill="none" stroke="#000" stroke-width="1.15"/>
<path d="M672.50 362.48 L679.08 375.63 L665.92 375.63 Z" fill="none" stroke="#000" stroke-width="1.15"/>
<path d="M420.98 367.90 V379.48 M418.68 367.90 h4.6 M418.68 379.48 h4.6" stroke="#000" stroke-width="1.2" fill="none"/>
<path d="M422.96 370.21 V381.79 M420.66 370.21 h4.6 M420.66 381.79 h4.6" stroke="#000" stroke-width="1.2" fill="none"/>
<path d="M426.92 374.85 V386.43 M424.62 374.85 h4.6 M424.62 386.43 h4.6" stroke="#000" stroke-width="1.2" fill="none"/>
<path d="M434.84 377.63 V389.21 M432.54 377.63 h4.6 M432.54 389.21 h4.6" stroke="#000" stroke-width="1.2" fill="none"/>
<path d="M450.69 373.11 V384.69 M448.39 373.11 h4.6 M448.39 384.69 h4.6" stroke="#000" stroke-width="1.2" fill="none"/>
<path d="M482.38 372.53 V384.11 M480.07 372.53 h4.6 M480.07 384.11 h4.6" stroke="#000" stroke-width="1.2" fill="none"/>
<path d="M545.75 367.90 V379.48 M543.45 367.90 h4.6 M543.45 379.48 h4.6" stroke="#000" stroke-width="1.2" fill="none"/>
<path d="M672.50 367.90 V379.48 M670.20 367.90 h4.6 M670.20 379.48 h4.6" stroke="#000" stroke-width="1.2" fill="none"/>
<path d="M420.98 373.69 L422.96 376.00 L426.92 380.64 L434.84 383.42 L450.69 378.90 L482.38 378.32 L545.75 373.69 L672.50 373.69" stroke="#000" stroke-width="3.2" fill="none" stroke-linejoin="round"/>
<path d="M420.98 367.11 L427.56 373.69 L420.98 380.26 L414.41 373.69 Z" fill="none" stroke="#000" stroke-width="1.15"/>
<path d="M422.96 369.43 L429.54 376.00 L422.96 382.58 L416.39 376.00 Z" fill="none" stroke="#000" stroke-width="1.15"/>
<path d="M426.92 374.06 L433.50 380.64 L426.92 387.21 L420.35 380.64 Z" fill="none" stroke="#000" stroke-width="1.15"/>
<path d="M434.84 376.84 L441.42 383.42 L434.84 389.99 L428.27 383.42 Z" fill="none" stroke="#000" stroke-width="1.15"/>
<path d="M450.69 372.32 L457.26 378.90 L450.69 385.47 L444.11 378.90 Z" fill="none" stroke="#000" stroke-width="1.15"/>
<path d="M482.38 371.75 L488.95 378.32 L482.38 384.89 L475.80 378.32 Z" fill="none" stroke="#000" stroke-width="1.15"/>
<path d="M545.75 367.11 L552.33 373.69 L545.75 380.26 L539.17 373.69 Z" fill="none" stroke="#000" stroke-width="1.15"/>
<path d="M672.50 367.11 L679.08 373.69 L672.50 380.26 L665.92 373.69 Z" fill="none" stroke="#000" stroke-width="1.15"/>
<path d="M420.98 342.88 V354.46 M418.68 342.88 h4.6 M418.68 354.46 h4.6" stroke="#000" stroke-width="1.2" fill="none"/>
<path d="M422.96 350.52 V362.11 M420.66 350.52 h4.6 M420.66 362.11 h4.6" stroke="#000" stroke-width="1.2" fill="none"/>
<path d="M426.92 356.32 V367.90 M424.62 356.32 h4.6 M424.62 367.90 h4.6" stroke="#000" stroke-width="1.2" fill="none"/>
<path d="M434.84 347.63 V375.42 M432.54 347.63 h4.6 M432.54 375.42 h4.6" stroke="#000" stroke-width="1.2" fill="none"/>
<path d="M450.69 358.05 V378.90 M448.39 358.05 h4.6 M448.39 378.90 h4.6" stroke="#000" stroke-width="1.2" fill="none"/>
<path d="M482.38 357.01 V375.54 M480.07 357.01 h4.6 M480.07 375.54 h4.6" stroke="#000" stroke-width="1.2" fill="none"/>
<path d="M545.75 354.00 V370.21 M543.45 354.00 h4.6 M543.45 370.21 h4.6" stroke="#000" stroke-width="1.2" fill="none"/>
<path d="M672.50 357.47 V376.00 M670.20 357.47 h4.6 M670.20 376.00 h4.6" stroke="#000" stroke-width="1.2" fill="none"/>
<path d="M420.98 348.67 L422.96 356.32 L426.92 362.11 L434.84 361.53 L450.69 368.48 L482.38 366.28 L545.75 362.11 L672.50 366.74" stroke="#000" stroke-width="3.2" fill="none" stroke-linejoin="round"/>
<rect x="414.41" y="342.10" width="13.15" height="13.15" fill="none" stroke="#000" stroke-width="1.15"/>
<rect x="416.39" y="349.74" width="13.15" height="13.15" fill="none" stroke="#000" stroke-width="1.15"/>
<rect x="420.35" y="355.53" width="13.15" height="13.15" fill="none" stroke="#000" stroke-width="1.15"/>
<rect x="428.27" y="354.95" width="13.15" height="13.15" fill="none" stroke="#000" stroke-width="1.15"/>
<rect x="444.11" y="361.90" width="13.15" height="13.15" fill="none" stroke="#000" stroke-width="1.15"/>
<rect x="475.80" y="359.70" width="13.15" height="13.15" fill="none" stroke="#000" stroke-width="1.15"/>
<rect x="539.17" y="355.53" width="13.15" height="13.15" fill="none" stroke="#000" stroke-width="1.15"/>
<rect x="665.92" y="360.16" width="13.15" height="13.15" fill="none" stroke="#000" stroke-width="1.15"/>
<path d="M420.98 360.95 L422.96 367.09 L426.92 364.42 L434.84 361.53 L450.69 369.52 L482.38 393.84 L545.75 451.51 L672.50 456.84" stroke="#000" stroke-width="3.2" fill="none" stroke-linejoin="round"/>
<rect x="414.23" y="354.20" width="13.5" height="13.5" fill="#000" stroke="#000" stroke-width="0"/>
<rect x="416.21" y="360.34" width="13.5" height="13.5" fill="#000" stroke="#000" stroke-width="0"/>
<rect x="420.17" y="357.67" width="13.5" height="13.5" fill="#000" stroke="#000" stroke-width="0"/>
<rect x="428.09" y="354.78" width="13.5" height="13.5" fill="#000" stroke="#000" stroke-width="0"/>
<rect x="443.94" y="362.77" width="13.5" height="13.5" fill="#000" stroke="#000" stroke-width="0"/>
<rect x="475.62" y="387.09" width="13.5" height="13.5" fill="#000" stroke="#000" stroke-width="0"/>
<rect x="539.00" y="444.76" width="13.5" height="13.5" fill="#000" stroke="#000" stroke-width="0"/>
<rect x="665.75" y="450.09" width="13.5" height="13.5" fill="#000" stroke="#000" stroke-width="0"/>
<text x="170.3" y="12.9" font-size="17.5" text-anchor="middle">a</text>
<text x="12.15" y="310.5" font-size="17.5" text-anchor="middle">b</text>
<path d="M70.2 563.2 h16.8" stroke="#000" stroke-width="1.8"/>
<rect x="74.60" y="559.20" width="8" height="8" fill="#000" stroke="#000" stroke-width="0"/>
<text x="88.9" y="567.8000000000001" font-size="14.3">P5</text>
<path d="M109.6 563.2 h16.8" stroke="#000" stroke-width="1.8"/>
<path d="M118.00 559.20 L122.00 563.20 L118.00 567.20 L114.00 563.20 Z" fill="#000" stroke="#000" stroke-width="0"/>
<text x="128.29999999999998" y="567.8000000000001" font-size="14.3">P5-CT1</text>
<path d="M182 563.2 h16.8" stroke="#000" stroke-width="1.8"/>
<path d="M190.40 559.20 L194.40 567.20 L186.40 567.20 Z" fill="#000" stroke="#000" stroke-width="0"/>
<text x="200.7" y="567.8000000000001" font-size="14.3">P5-CT2</text>
<path d="M254.6 563.2 h16.8" stroke="#000" stroke-width="1.8"/>
<circle cx="263.00" cy="563.20" r="4.00" fill="#000" stroke="#000" stroke-width="0"/>
<text x="273.3" y="567.8000000000001" font-size="14.3">P5-CT3</text>
<path d="M327.2 563.2 h16.8" stroke="#000" stroke-width="1.8"/>
<rect x="331.90" y="559.50" width="7.4" height="7.4" fill="none" stroke="#000" stroke-width="0.9"/>
<text x="345.9" y="567.8000000000001" font-size="14.3">P5-NT1</text>
<path d="M400.2 563.2 h16.8" stroke="#000" stroke-width="1.8"/>
<path d="M408.60 559.50 L412.30 563.20 L408.60 566.90 L404.90 563.20 Z" fill="none" stroke="#000" stroke-width="0.9"/>
<text x="418.9" y="567.8000000000001" font-size="14.3">P5-NT2</text>
<path d="M472.4 563.2 h16.8" stroke="#000" stroke-width="1.8"/>
<path d="M480.80 559.50 L484.50 566.90 L477.10 566.90 Z" fill="none" stroke="#000" stroke-width="0.9"/>
<text x="491.09999999999997" y="567.8000000000001" font-size="14.3">P5-NT3</text>
<path d="M544.9 563.2 h16.8" stroke="#000" stroke-width="1.8"/>
<circle cx="553.30" cy="563.20" r="3.70" fill="none" stroke="#000" stroke-width="0.9"/>
<text x="563.6" y="567.8000000000001" font-size="14.3">Melittin</text>
</svg></body></html>
